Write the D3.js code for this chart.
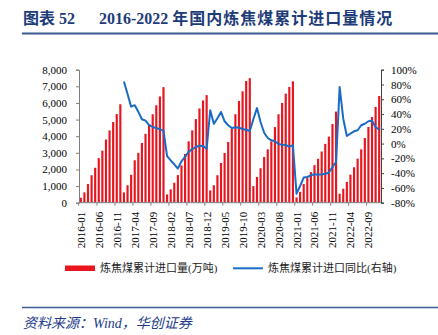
<!DOCTYPE html>
<meta charset="utf-8">
<script src="https://d3js.org/d3.v7.min.js"></script>
<style>
  body { margin: 0; background: #fff; }
  svg text { font-family: "Liberation Serif", "Noto Sans CJK SC", serif; }
</style>
<div id="chart"></div>
<script>
// categories
const years = [2016, 2017, 2018, 2019, 2020, 2021, 2022];
const monthNums = ["01","02","03","04","05","06","07","08","09","10","11","12"];

// cumulative coking coal imports (万吨), one array per year
const imp2016 = [300, 620, 1120, 1650, 2100, 2680, 3130, 3800, 4350, 4850, 5330, 5920];
const imp2017 = [620, 1050, 1680, 2550, 3000, 3590, 4140, 4720, 5320, 5860, 6390, 6950];
const imp2018 = [500, 800, 1200, 1660, 2240, 2930, 3690, 4350, 5030, 5670, 6150, 6470];
const imp2019 = [740, 1050, 1650, 2390, 2990, 3650, 4450, 5320, 6120, 6700, 7320, 7490];
const imp2020 = [1000, 1550, 2070, 2750, 3210, 3690, 4550, 5320, 6000, 6560, 6960, 7300];
const imp2021 = [320, 650, 1120, 1480, 1840, 2260, 2640, 3080, 3540, 3970, 4730, 5480];
const imp2022 = [540, 840, 1250, 1690, 2130, 2650, 3210, 3890, 4550, 5150, 5760, 6420];

// YoY of cumulative imports (%), right axis; 2016 has none
const yoy2017 = [84, 67, 50, 52, 43, 33, 31, 25, 22.5, 21, 19.5, 17.5];
const yoy2018 = [-17, -22.6, -28, -33.8, -24, -18, -11, -7.5, -4.6, -3, -3.2, -7];
const yoy2019 = [45, 26.7, 34.4, 42.8, 30.2, 24.8, 21.1, 22, 21.5, 19.7, 18.8, 17];
const yoy2020 = [33, 48, 29.2, 14.7, 7.6, 4.4, 3.1, -0.6, -1.5, -1.9, -4.2, -2.3];
const yoy2021 = [-67.8, -57.4, -46, -45.2, -42.9, -41.5, -42.1, -41.5, -40.7, -39.4, -31.7, -25];
const yoy2022 = [76.6, 33.7, 10.3, 13.4, 16.6, 18, 24.8, 26.9, 30.2, 31, 22.5, 18.8];

const leftTicks = [0, 1000, 2000, 3000, 4000, 5000, 6000, 7000, 8000];
const rightTicks = [-80, -60, -40, -20, 0, 20, 40, 60, 80, 100];

const months = years.flatMap(y => monthNums.map(m => y + "-" + m));
const imports = [].concat(imp2016, imp2017, imp2018, imp2019, imp2020, imp2021, imp2022);
const yoy = new Array(12).fill(null).concat(yoy2017, yoy2018, yoy2019, yoy2020, yoy2021, yoy2022);
const data = months.map((m, i) => ({ month: m, imp: imports[i], yoy: yoy[i] }));

const W = 438, H = 335;
const plot = { left: 79, right: 381, top: 69.7, bottom: 202.7 };

const svg = d3.select("#chart").append("svg")
    .attr("width", W).attr("height", H);
svg.append("rect").attr("width", W).attr("height", H).attr("fill", "#fff");

// title
const title = svg.append("text")
    .attr("y", 24)
    .attr("font-size", 16).attr("font-weight", "bold")
    .attr("fill", "#1d3c78");
title.append("tspan").attr("x", 23).text("图表 52");
title.append("tspan").attr("x", 99).text("2016-2022 ");
title.append("tspan").attr("letter-spacing", 1).text("年国内炼焦煤累计进口量情况");

svg.append("line")
    .attr("x1", 22).attr("x2", W).attr("y1", 33.5).attr("y2", 33.5)
    .attr("stroke", "#3b5b92").attr("stroke-width", 2);

// scales
const x = d3.scaleBand()
    .domain(months)
    .range([plot.left, plot.right])
    .paddingInner(0.4).paddingOuter(0.2);
const step = x.step();
const yL = d3.scaleLinear().domain([0, 8000]).range([plot.bottom, plot.top]);
const yR = d3.scaleLinear().domain([-80, 100]).range([plot.bottom, plot.top]);

// bars
svg.append("g")
  .selectAll("rect")
  .data(data)
  .join("rect")
    .attr("x", d => x(d.month))
    .attr("y", d => yL(d.imp))
    .attr("width", x.bandwidth())
    .attr("height", d => yL(0) - yL(d.imp))
    .attr("fill", "#e8141e");

// line
svg.append("path")
    .datum(data.filter(d => d.yoy !== null))
    .attr("fill", "none")
    .attr("stroke", "#1a6bc6")
    .attr("stroke-width", 2)
    .attr("stroke-linejoin", "round")
    .attr("d", d3.line()
      .x(d => x(d.month) + x.bandwidth() / 2)
      .y(d => yR(d.yoy)));

// left axis
const axL = svg.append("g")
    .attr("transform", `translate(${plot.left},0)`)
    .call(d3.axisLeft(yL).tickValues(leftTicks).tickSize(3).tickPadding(9)
      .tickFormat(d3.format(",")));
axL.select(".domain").attr("stroke", "#7f7f7f");
axL.selectAll(".tick line").attr("stroke", "#7f7f7f");
axL.selectAll("text").attr("font-size", 11).attr("fill", "#000")
    .attr("font-family", "Liberation Serif");

// right axis
const axR = svg.append("g")
    .attr("transform", `translate(${plot.right},0)`)
    .call(d3.axisRight(yR).tickValues(rightTicks).tickSize(3).tickPadding(7)
      .tickFormat(d => d + "%"));
axR.select(".domain").attr("stroke", "#404040");
axR.selectAll(".tick line").attr("stroke", "#404040");
axR.selectAll("text").attr("font-size", 11).attr("fill", "#000")
    .attr("font-family", "Liberation Serif");

// bottom axis: ticks on band edges every 5 months, labels at band centres
const labelMonths = months.filter((m, i) => i % 5 === 0);
const xAxis = svg.append("g");
xAxis.append("line")
    .attr("x1", plot.left).attr("x2", plot.right)
    .attr("y1", plot.bottom).attr("y2", plot.bottom)
    .attr("stroke", "#7f7f7f");
xAxis.selectAll("line.tick")
  .data(labelMonths)
  .join("line")
    .attr("class", "tick")
    .attr("x1", d => x(d) - step * x.paddingInner() / 2 - (months.indexOf(d) === 0 ? step * 0.1 : 0))
    .attr("x2", d => x(d) - step * x.paddingInner() / 2 - (months.indexOf(d) === 0 ? step * 0.1 : 0))
    .attr("y1", plot.bottom).attr("y2", plot.bottom + 3)
    .attr("stroke", "#7f7f7f");
xAxis.selectAll("text")
  .data(labelMonths)
  .join("text")
    .attr("transform", d => `translate(${x(d) + x.bandwidth() / 2 + 4},${plot.bottom + 9}) rotate(-90)`)
    .attr("text-anchor", "end")
    .attr("font-size", 11)
    .attr("font-family", "Liberation Serif")
    .text(d => d);

// legend
const lg = svg.append("g").attr("font-size", 11);
lg.append("rect").attr("x", 65).attr("y", 265.5).attr("width", 30).attr("height", 5.5)
    .attr("fill", "#e8141e");
lg.append("text").attr("x", 100).attr("y", 272).text("炼焦煤累计进口量(万吨)")
    .attr("font-family", "Noto Sans CJK SC").attr("fill", "#222");
lg.append("line").attr("x1", 233).attr("x2", 263).attr("y1", 268.3).attr("y2", 268.3)
    .attr("stroke", "#1a6bc6").attr("stroke-width", 2);
lg.append("text").attr("x", 268).attr("y", 272).text("炼焦煤累计进口同比(右轴)")
    .attr("font-family", "Noto Sans CJK SC").attr("fill", "#222");

// footer
svg.append("line")
    .attr("x1", 22).attr("x2", W).attr("y1", 307.5).attr("y2", 307.5)
    .attr("stroke", "#3b5b92").attr("stroke-width", 1.5);
const src = svg.append("text")
    .attr("x", 23).attr("y", 328)
    .attr("font-size", 14).attr("font-style", "italic")
    .attr("fill", "#1d3c8a");
src.append("tspan").attr("font-family", "Noto Sans CJK SC").text("资料来源：");
src.append("tspan").attr("font-family", "Liberation Serif").text("Wind");
src.append("tspan").attr("font-family", "Noto Sans CJK SC").text("，华创证券");
</script>
